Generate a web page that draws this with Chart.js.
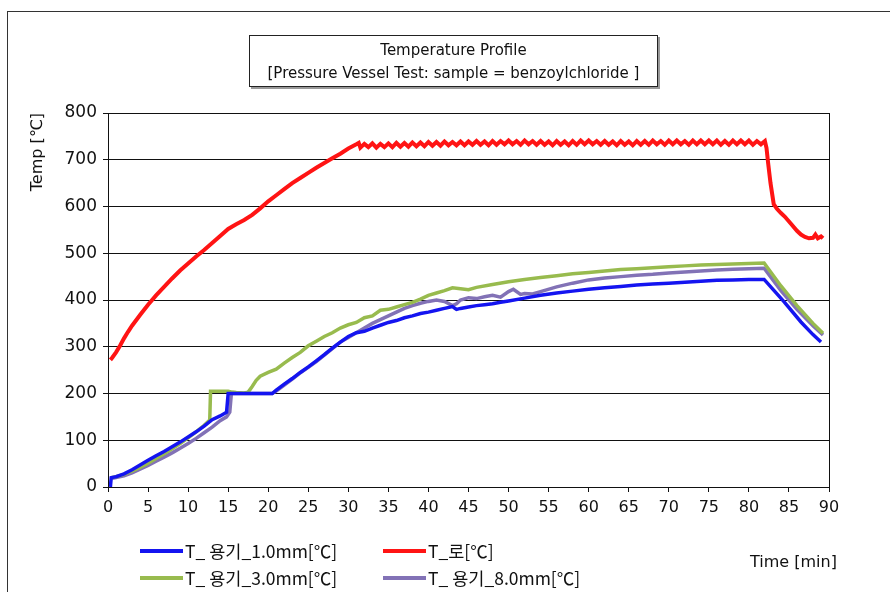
<!DOCTYPE html>
<html>
<head>
<meta charset="utf-8">
<script src="https://cdn.jsdelivr.net/npm/chart.js@4.4.1/dist/chart.umd.min.js"></script>
<style>
  html, body { margin: 0; padding: 0; background: #fff; overflow: hidden; }
  #wrap { position: relative; width: 890px; height: 592px; overflow: hidden; }
  #frame { position: absolute; left: 7px; top: 11px; width: 900px; height: 600px; border: 1.5px solid #333; }
  #chart { position: absolute; left: 0; top: 0; }
  #title { position: absolute; left: 249px; top: 35px; width: 409px; height: 52px; border: 1px solid #222;
           box-shadow: 2px 2px 0 #999; background: #fff;
           font-family: "DejaVu Sans", sans-serif; font-size: 15px; line-height: 23px;
           text-align: center; padding-top: 3px; box-sizing: border-box; color: #111; }
  #legend { position: absolute; left: 140px; top: 537px; display: grid; grid-template-columns: 243px auto;
            grid-auto-rows: 27px; font-family: "Noto Sans CJK KR", sans-serif; font-size: 17.5px; color: #111; }
  .item { display: flex; align-items: center; }
  .swatch { width: 43px; height: 4px; margin-right: 2px; }
  #xlabel { position: absolute; left: 750px; top: 552px; font-family: "DejaVu Sans", sans-serif;
            font-size: 16px; color: #111; }
</style>
</head>
<body>
<div id="wrap">
  <div id="frame"></div>
  <canvas id="chart" width="890" height="592"></canvas>
  <div id="title">Temperature Profile<br>[Pressure Vessel Test: sample = benzoylchloride ]</div>
  <div id="legend"></div>
  <div id="xlabel">Time [min]</div>
</div>
<script>
// Ejes
const xTicks = [0, 5, 10, 15, 20, 25, 30, 35, 40, 45, 50, 55, 60, 65, 70, 75, 80, 85, 90];
const yTicks = [0, 100, 200, 300, 400, 500, 600, 700, 800];

// T_ 용기_1.0mm
const blueTime = [0.3, 0.4, 1, 2, 3, 4, 5, 6, 7, 8, 9, 10, 11, 12, 13, 14, 14.8, 15, 16, 17, 18, 19, 20.5,
  21, 22, 23, 24, 25, 26, 27, 28, 29, 30, 31, 32, 33, 34, 35, 36, 37, 38, 39, 40, 41, 42, 43, 43.5, 44, 45,
  46, 47, 48, 49, 50, 52, 54, 56, 58, 60, 62, 64, 66, 68, 70, 72, 74, 76, 78, 80, 81.9, 84.4, 86.5, 88, 89];
const blueTemp = [0, 20, 22, 28, 37, 47, 57, 67, 76, 86, 96, 107, 118, 130, 144, 152, 160, 200, 200, 200, 200, 200, 200,
  207, 220, 232, 245, 257, 270, 283, 297, 310, 322, 330, 333, 340, 346, 352, 356, 362, 366, 371, 374, 378, 382, 386, 380, 382, 385,
  388, 390, 392, 395, 398, 404, 410, 415, 419, 423, 426, 429, 432, 434, 436, 438, 440, 442, 443, 444, 444, 396, 353, 326, 310];

// T_로
const redTime = [0.3, 0.5, 1, 1.5, 2, 2.5, 3, 4, 5, 6, 7, 8, 9, 10, 11, 12, 13, 14, 15, 16, 17, 18, 19, 20,
  21, 22, 23, 24, 25, 26, 27, 28, 29, 30, 31, 31.3,
  31.5, 32, 32.5, 33, 33.5, 34, 34.5, 35, 35.5, 36, 36.5, 37, 37.5, 38, 38.5, 39, 39.5, 40,
  40.5, 41, 41.5, 42, 42.5, 43, 43.5, 44, 44.5, 45, 45.5, 46, 46.5, 47, 47.5, 48, 48.5, 49, 49.5, 50,
  50.5, 51, 51.5, 52, 52.5, 53, 53.5, 54, 54.5, 55, 55.5, 56, 56.5, 57, 57.5, 58, 58.5, 59, 59.5, 60,
  60.5, 61, 61.5, 62, 62.5, 63, 63.5, 64, 64.5, 65, 65.5, 66, 66.5, 67, 67.5, 68, 68.5, 69, 69.5, 70,
  70.5, 71, 71.5, 72, 72.5, 73, 73.5, 74, 74.5, 75, 75.5, 76, 76.5, 77, 77.5, 78, 78.5, 79, 79.5, 80,
  80.5, 81, 81.5, 82,
  82.2, 82.4, 82.7, 83.1, 83.5, 84, 84.5, 85.25, 86, 86.5, 87, 87.5, 88, 88.3, 88.6, 89, 89.25];
const redTemp = [272, 276, 288, 302, 318, 332, 345, 368, 390, 410, 428, 446, 463, 478, 493, 507, 522, 537, 552, 562, 571, 582, 596, 611,
  624, 637, 650, 661, 672, 683, 693, 703, 713, 724, 733, 736,
  726, 734, 727, 735, 726, 734, 727, 735, 727, 736, 728, 736, 728, 737, 729, 737, 729, 738,
  730, 738, 730, 739, 731, 738, 731, 739, 731, 739, 732, 740, 732, 739, 731, 740, 732, 740, 733, 741,
  733, 740, 732, 741, 733, 740, 732, 740, 732, 739, 731, 740, 732, 739, 731, 740, 732, 741, 733, 741,
  733, 740, 732, 740, 732, 739, 731, 740, 732, 739, 731, 740, 732, 740, 732, 741, 733, 740, 732, 741,
  733, 741, 733, 740, 732, 741, 733, 741, 733, 741, 733, 741, 732, 740, 732, 741, 733, 741, 733, 741,
  732, 740, 733, 740,
  725, 693, 650, 605, 595, 586, 578, 563, 548, 540, 535, 532, 533, 540, 532, 536, 532];

// T_ 용기_3.0mm
const greenTime = [0.4, 1, 2, 3, 4, 5, 6, 7, 8, 9, 10, 11, 12, 12.7, 12.8, 13, 14, 15, 15.5, 16, 17, 17.5, 18, 18.5,
  19, 20, 21, 22, 23, 24, 25, 26, 27, 28, 29, 30, 31, 32, 33, 34, 35, 36, 37, 38, 39, 40, 41, 42, 43, 44, 45,
  46, 48, 50, 52, 54, 56, 58, 60, 62, 64, 66, 68, 70, 72, 74, 76, 78, 80, 81.9, 84, 86, 88, 89.25];
const greenTemp = [20, 22, 27, 34, 42, 51, 61, 71, 82, 93, 105, 118, 132, 143, 205, 205, 205, 205, 203, 202, 201, 203, 215, 228,
  237, 245, 252, 265, 277, 288, 302, 312, 322, 330, 340, 347, 352, 362, 366, 378, 380, 385, 390, 395, 402, 410, 415, 420, 426, 424, 422,
  427, 433, 439, 444, 448, 452, 456, 459, 462, 465, 467, 469, 471, 473, 475, 476, 477, 478, 479, 430, 388, 350, 329];

// T_ 용기_8.0mm
const purpleTime = [0.4, 1, 2, 3, 4, 5, 6, 7, 8, 9, 10, 11, 12, 13, 14, 14.8, 15.2, 15.4, 16, 18, 20.5,
  21, 22, 23, 24, 25, 26, 27, 28, 29, 30, 31, 32, 33, 34, 35, 36, 37, 38, 39, 40, 41, 42, 43, 43.5, 44, 45,
  46, 47, 48, 49, 50, 50.6, 51.5, 52, 53, 54, 56, 58, 60, 62, 64, 66, 68, 70, 72, 74, 76, 78, 80, 81.9, 84, 86, 88, 89.25];
const purpleTemp = [18, 20, 24, 30, 38, 46, 55, 64, 73, 83, 93, 104, 116, 128, 142, 150, 160, 200, 200, 200, 200,
  205, 218, 231, 244, 256, 268, 282, 296, 310, 320, 330, 340, 350, 358, 366, 374, 382, 388, 393, 397, 400, 397, 388, 392, 400, 405,
  403, 407, 410, 406, 418, 423, 412, 414, 413, 418, 428, 436, 443, 447, 450, 453, 455, 458, 460, 462, 464, 466, 467, 468, 420, 380, 345, 325];

const seriesNames = ['T_ 용기_1.0mm[℃]', 'T_로[℃]', 'T_ 용기_3.0mm[℃]', 'T_ 용기_8.0mm[℃]'];
const seriesColors = ['#1414f0', '#ff1414', '#98bb4e', '#8272b6'];

function pts(xs, ys) {
  return xs.map((x, i) => ({ x: x, y: ys[i] }));
}

const seriesData = [pts(blueTime, blueTemp), pts(redTime, redTemp), pts(greenTime, greenTemp), pts(purpleTime, purpleTemp)];

// borde del área de trazado
const areaBorder = {
  id: 'areaBorder',
  afterDraw(chart) {
    const a = chart.chartArea;
    const ctx = chart.ctx;
    ctx.save();
    ctx.strokeStyle = '#111';
    ctx.lineWidth = 1;
    ctx.strokeRect(a.left + 0.5, a.top + 0.5, a.right - a.left, a.bottom - a.top);
    ctx.restore();
  }
};

const ctx = document.getElementById('chart').getContext('2d');
const chart = new Chart(ctx, {
  type: 'line',
  data: {
    datasets: seriesNames.map((name, i) => ({
      label: name,
      data: seriesData[i],
      borderColor: seriesColors[i],
      backgroundColor: seriesColors[i],
      borderWidth: i === 1 ? 4 : 3.5,
      pointRadius: 0,
      tension: 0,
      fill: false
    }))
  },
  options: {
    responsive: false,
    devicePixelRatio: 1,
    animation: false,
    layout: { padding: { left: 10, top: 113, right: 61, bottom: 75 } },
    plugins: {
      legend: { display: false },
      tooltip: { enabled: false }
    },
    scales: {
      x: {
        type: 'linear',
        min: 0,
        max: 90,
        afterFit: s => { s.height = 30; },
        afterBuildTicks: s => { s.ticks = xTicks.map(v => ({ value: v })); },
        grid: { drawOnChartArea: false, drawTicks: true, tickLength: 5, color: '#111' },
        border: { color: '#111' },
        ticks: { color: '#111', padding: 6, maxRotation: 0, font: { family: 'DejaVu Sans', size: 16 } }
      },
      y: {
        min: 0,
        max: 800,
        afterFit: s => { s.width = 98; },
        afterBuildTicks: s => { s.ticks = yTicks.map(v => ({ value: v })); },
        grid: { color: '#111', lineWidth: 1, tickLength: 5 },
        border: { color: '#111' },
        title: {
          display: true,
          text: 'Temp [℃]',
          align: 'end',
          color: '#111',
          padding: { top: 18, bottom: 0 },
          font: { family: 'DejaVu Sans', size: 16 }
        },
        ticks: { color: '#111', padding: 6, font: { family: 'DejaVu Sans', size: 17 } }
      }
    }
  },
  plugins: [areaBorder]
});

// leyenda en dos columnas
const legendBox = document.getElementById('legend');
chart.data.datasets.forEach(ds => {
  const item = document.createElement('div');
  item.className = 'item';
  const sw = document.createElement('span');
  sw.className = 'swatch';
  sw.style.background = ds.borderColor;
  const txt = document.createElement('span');
  txt.textContent = ds.label;
  item.appendChild(sw);
  item.appendChild(txt);
  legendBox.appendChild(item);
});
</script>
</body>
</html>
